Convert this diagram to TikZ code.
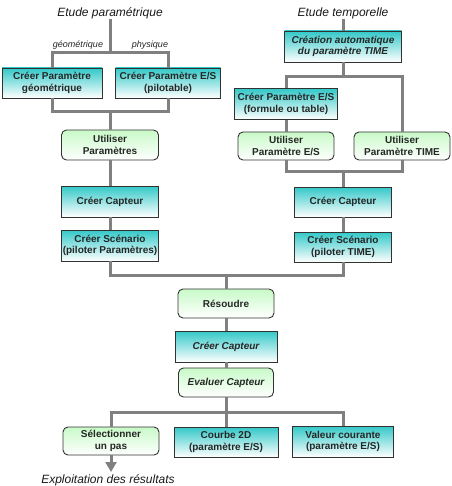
\documentclass[tikz,border=0pt]{standalone}
\usepackage{fontspec}
\setmainfont{Liberation Sans}
\usetikzlibrary{arrows.meta}
\definecolor{tealtop}{RGB}{51,200,200}
\definecolor{greentop}{RGB}{200,250,200}
\definecolor{conncol}{RGB}{128,128,128}
\definecolor{bordercol}{RGB}{50,50,50}
\begin{document}
\begin{tikzpicture}[x=1pt,y=-1pt,
  base/.style={draw=bordercol, line width=0.9pt, align=center, inner sep=0pt,
    font=\fontsize{10}{11.5}\selectfont\bfseries, text=black!85},
  wh/.style 2 args={minimum width=#1pt, minimum height=#2pt},
  tealbox/.style={base, rectangle, top color=tealtop, bottom color=white},
  greenbox/.style={base, rectangle, rounded corners=5pt, top color=greentop, bottom color=white},
  itl/.style={font=\fontsize{10}{11.5}\selectfont\bfseries\itshape},
  heading/.style={inner sep=0pt, font=\fontsize{12}{14}\selectfont\itshape, text=black!90},
  small/.style={inner sep=0pt, font=\fontsize{9}{10}\selectfont\itshape, text=black!85},
  conn/.style={draw=conncol, line width=3pt}
]
\useasboundingbox (0,0) rectangle (451,486);
\clip (0,0) rectangle (451,486);

% headings
\node[heading] (hp) at (110,13) {Etude paramétrique};
\node[heading] (ht) at (343,13) {Etude temporelle};
\node[small] (lg) at (78,45) {géométrique};
\node[small] (lph) at (150,45) {physique};

% left column
\node[tealbox, wh={100}{30}] (cpg) at (52,83) {Créer Paramètre\\géométrique};
\node[tealbox, wh={105}{30}] (cpe) at (168,83) {Créer Paramètre E/S\\(pilotable)};
\node[greenbox, wh={97}{30}] (up) at (110,145) {Utiliser\\Paramètres};
\node[tealbox, wh={97}{31}] (cc1) at (110,201.5) {Créer Capteur};
\node[tealbox, wh={97}{31}] (cs1) at (110,245.5) {Créer Scénario\\(piloter Paramètres)};

% right column
\node[tealbox, itl, wh={117}{31}] (ca) at (343,46.5) {Création automatique\\du paramètre TIME};
\node[tealbox, wh={103}{31}] (cpe2) at (286,104) {Créer Paramètre E/S\\(formule ou table)};
\node[greenbox, wh={96}{28}] (ue) at (286,146) {Utiliser\\Paramètre E/S};
\node[greenbox, wh={96}{28}] (ut) at (402,146) {Utiliser\\Paramètre TIME};
\node[tealbox, wh={97}{30}] (cc2) at (343,202) {Créer Capteur};
\node[tealbox, wh={97}{30}] (cs2) at (343,247) {Créer Scénario\\(piloter TIME)};

% middle
\node[greenbox, wh={96}{29}] (res) at (226,303.5) {Résoudre};
\node[tealbox, itl, wh={102}{31}] (cc3) at (226,346.5) {Créer Capteur};
\node[greenbox, itl, wh={95}{29}] (ev) at (226,382.5) {Evaluer Capteur};

% bottom row
\node[greenbox, wh={96}{28}] (sel) at (111,441) {Sélectionner\\un pas};
\node[tealbox, wh={104}{30}] (cb) at (226,442) {Courbe 2D\\(paramètre E/S)};
\node[tealbox, wh={101}{31}] (vc) at (343,441.5) {Valeur courante\\(paramètre E/S)};
\node[heading, anchor=base] (ex) at (108,483) {Exploitation des résultats};

% junction coordinates
\coordinate (b1) at (110,53);
\coordinate (b2) at (110,112);
\coordinate (b3) at (343,77);
\coordinate (b4) at (343,172);
\coordinate (b5) at (226,275);
\coordinate (b6) at (226,412);
\coordinate (arr) at (111,472);

% connectors
\draw[conn] (hp.south) -- (b1);
\draw[conn] (cpg.north) |- (b1) -| (cpe.north);
\draw[conn] (cpg.south) |- (b2) -| (cpe.south);
\draw[conn] (b2) -- (up.north);
\draw[conn] (up.south) -- (cc1.north);
\draw[conn] (cc1.south) -- (cs1.north);

\draw[conn] (ht.south) -- (ca.north);
\draw[conn] (ca.south) -- (b3);
\draw[conn] (cpe2.north) |- (b3) -| (ut.north);
\draw[conn] (cpe2.south) -- (ue.north);
\draw[conn] (ue.south) |- (b4) -| (ut.south);
\draw[conn] (b4) -- (cc2.north);
\draw[conn] (cc2.south) -- (cs2.north);

\draw[conn] (cs1.south) |- (b5) -| (cs2.south);
\draw[conn] (b5) -- (res.north);
\draw[conn] (res.south) -- (cc3.north);
\draw[conn] (cc3.south) -- (ev.north);
\draw[conn] (ev.south) -- (b6);
\draw[conn] (sel.north) |- (b6) -| (vc.north);
\draw[conn] (b6) -- (cb.north);
\draw[conn, -{Triangle[width=11pt,length=10pt]}] (sel.south) -- (arr);
\end{tikzpicture}
\end{document}
